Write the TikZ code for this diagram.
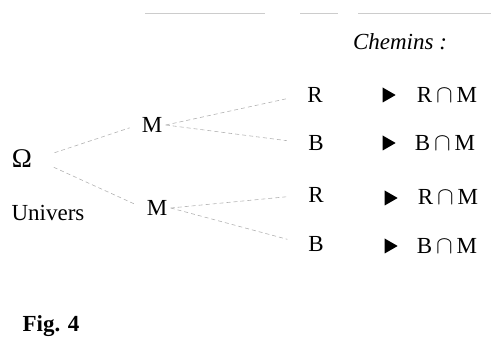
\documentclass[tikz,border=0pt]{standalone}
\usepackage{fontspec}
\setmainfont{Liberation Serif}
\usetikzlibrary{positioning,shapes.geometric}

\begin{document}
\begin{tikzpicture}[x=1pt,y=-1pt,font=\fontsize{23}{27}\selectfont,
  branche/.style={draw=gray!60,dash pattern=on 4pt off 3pt,line width=0.6pt},
  pointe/.style={isosceles triangle,isosceles triangle stretches,fill=black,
    inner sep=0pt,minimum width=15pt,minimum height=13pt}]
\useasboundingbox (0,0) rectangle (491,347);
% trait de coupe en haut de la page
\draw[gray!40,thick] (145,13) -- (265,13) (300,13) -- (338,13) (358,13) -- (491,13);
\node[font=\fontsize{23}{27}\selectfont\itshape] (chemins) at (400,42) {Chemins :};
% univers et premier niveau
\node[font=\fontsize{27}{30}\selectfont] (omega) at (22,159) {Ω};
\node (univers) at (48,213) {Univers};
\node (m1) at (152,125) {M};
\node (m2) at (157,208) {M};
% second niveau
\node (r1) at (315,95) {R};
\node (b1) at (316,143) {B};
\node (r2) at (316,195) {R};
\node (b2) at (316,244) {B};
% branches en pointillés
\draw[branche,shorten <=20pt,shorten >=9pt] (omega.east) -- (m1.west);
\draw[branche,shorten <=20pt,shorten >=9pt] (omega.east) -- (m2.west);
\draw[branche,shorten >=18pt] (m1.east) -- (r1.west);
\draw[branche,shorten >=18pt] (m1.east) -- (b1.west);
\draw[branche,shorten >=18pt] (m2.east) -- (r2.west);
\draw[branche,shorten >=18pt] (m2.east) -- (b2.west);
% chemins obtenus
\node[pointe] (p1) at (387,95) {};
\node[pointe] (p2) at (387,143) {};
\node[pointe] (p3) at (389,198) {};
\node[pointe] (p4) at (389,246) {};
\node (c1) at (447,95) {R\,$\cap$\,M};
\node (c2) at (445,143) {B\,$\cap$\,M};
\node (c3) at (448,197) {R\,$\cap$\,M};
\node (c4) at (447,246) {B\,$\cap$\,M};
\node[font=\fontsize{23}{27}\selectfont\bfseries] (fig) at (51,326) {Fig. 4};
\end{tikzpicture}
\end{document}
